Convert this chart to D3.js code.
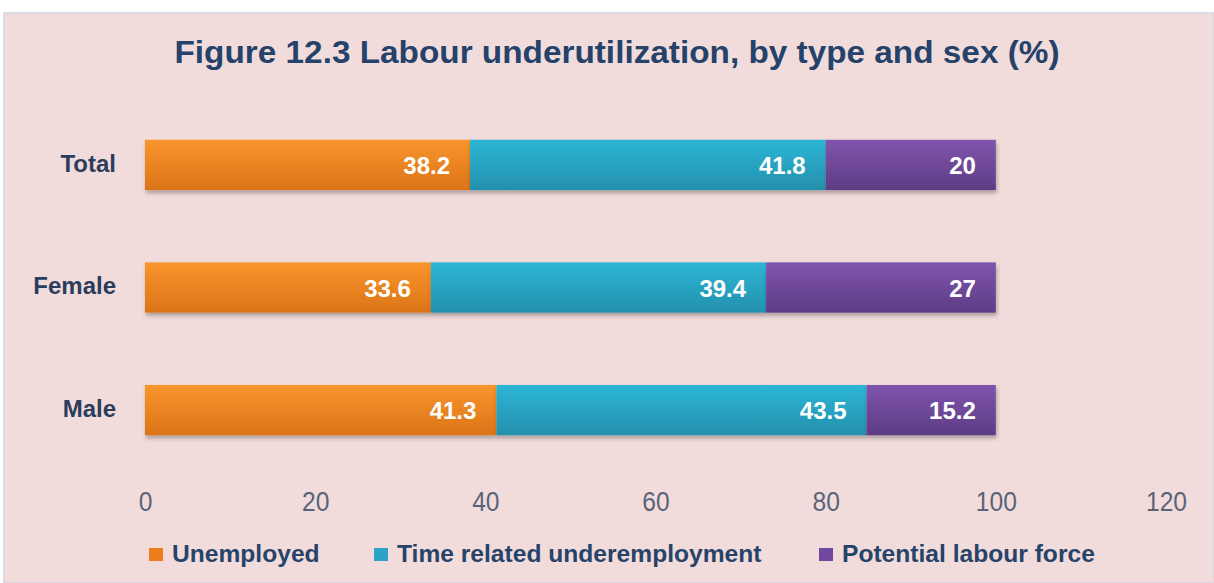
<!DOCTYPE html>
<html><head><meta charset="utf-8">
<script src="https://cdn.jsdelivr.net/npm/d3@7"></script>
<style>html,body{margin:0;padding:0;background:#fff;}svg{display:block;}</style>
</head><body>
<script>
const categories = ["Total", "Female", "Male"];
const seriesNames = ["Unemployed", "Time related underemployment", "Potential labour force"];
const unemployed = [38.2, 33.6, 41.3];
const timeRelated = [41.8, 39.4, 43.5];
const potential = [20, 27, 15.2];
const xTicks = [0, 20, 40, 60, 80, 100, 120];
const title = "Figure 12.3 Labour underutilization, by type and sex (%)";

const W = 1214, H = 583;
const colors = [["#f8952c", "#dc7418"], ["#2db6d6", "#2490ad"], ["#8055ad", "#5d3c84"]];
const legendColors = ["#ec7d1a", "#2aa3c5", "#7048a0"];
const FONT = "Liberation Sans, Arial, sans-serif";

const svg = d3.select("body").append("svg").attr("width", W).attr("height", H);
const defs = svg.append("defs");
colors.forEach((c, i) => {
  const g = defs.append("linearGradient").attr("id", "g" + i).attr("x1", 0).attr("y1", 0).attr("x2", 0).attr("y2", 1);
  g.append("stop").attr("offset", "0%").attr("stop-color", c[0]);
  g.append("stop").attr("offset", "100%").attr("stop-color", c[1]);
});
const f = defs.append("filter").attr("id", "sh").attr("x", "-5%").attr("y", "-20%").attr("width", "110%").attr("height", "160%");
f.append("feDropShadow").attr("dx", 1).attr("dy", 3).attr("stdDeviation", 2).attr("flood-color", "#000").attr("flood-opacity", 0.3);

svg.append("rect").attr("x", 4).attr("y", 13).attr("width", W - 4).attr("height", H - 13)
  .attr("fill", "#f2dcdb").attr("stroke", "#d6d4de").attr("stroke-width", 1.5);

svg.append("text").attr("x", 617).attr("y", 63).attr("text-anchor", "middle")
  .attr("font-family", FONT).attr("font-weight", "bold")
  .attr("font-size", 32).attr("fill", "#24426a")
  .attr("textLength", 885).attr("lengthAdjust", "spacingAndGlyphs").text(title);

const x = d3.scaleLinear().domain([0, 120]).range([145, 1166]);
const y = d3.scaleBand().domain(categories).range([103, 472]).paddingInner(0.59).paddingOuter(0.3);

const data = categories.map((c, i) => ({ cat: c, Unemployed: unemployed[i], "Time related underemployment": timeRelated[i], "Potential labour force": potential[i] }));
const stacked = d3.stack().keys(seriesNames)(data);

const gBars = svg.append("g");
stacked.forEach((layer, si) => {
  gBars.append("g").attr("filter", "url(#sh)").selectAll("rect").data(layer).join("rect")
    .attr("x", d => x(d[0])).attr("width", d => x(d[1]) - x(d[0]))
    .attr("y", d => y(d.data.cat)).attr("height", y.bandwidth())
    .attr("fill", `url(#g${si})`);
});
stacked.forEach((layer, si) => {
  svg.append("g").selectAll("text").data(layer).join("text")
    .attr("x", d => x(d[1]) - 20).attr("y", d => y(d.data.cat) + y.bandwidth() / 2 + 9)
    .attr("text-anchor", "end")
    .attr("font-family", FONT).attr("font-weight", "bold")
    .attr("font-size", 24).attr("fill", "#fff")
    .text(d => d3.format("")(+(d[1] - d[0]).toFixed(1)));
});

// category labels
const yAxis = d3.axisLeft(y).tickSize(0).tickPadding(0);
const ya = svg.append("g").attr("transform", "translate(116,0)").call(yAxis);
ya.select(".domain").remove();
ya.selectAll("text").attr("font-family", FONT).attr("font-weight", "bold")
  .attr("font-size", 24).attr("fill", "#2b3d5c").attr("dy", "0.28em");

// x axis
const xAxis = d3.axisBottom(x).tickValues(xTicks).tickSize(0).tickPadding(0);
const xa = svg.append("g").attr("transform", "translate(0,511)").call(xAxis);
xa.select(".domain").remove();
xa.selectAll("text").attr("font-family", FONT)
  .attr("font-size", 28).attr("fill", "#5a6479").attr("dy", "0")
  .attr("transform", "scale(0.88,1)");

// legend
const legendX = [172, 397, 842];
const lg = svg.append("g");
seriesNames.forEach((n, i) => {
  lg.append("rect").attr("x", legendX[i] - 23).attr("y", 548).attr("width", 14).attr("height", 13).attr("fill", legendColors[i]);
  lg.append("text").attr("x", legendX[i]).attr("y", 562)
    .attr("font-family", FONT).attr("font-weight", "bold")
    .attr("font-size", 24.6).attr("fill", "#26436a").text(n);
});
</script>
</body></html>
